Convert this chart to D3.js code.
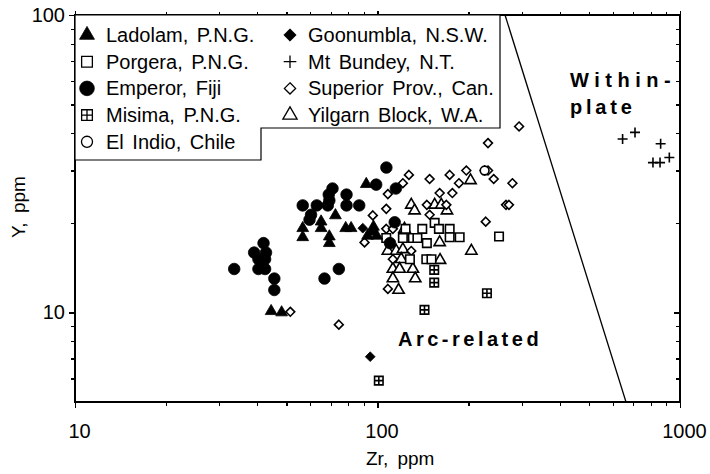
<!DOCTYPE html>
<meta charset="utf-8">
<style>
body { margin: 0; background: #fff; }
svg { font-family: "Liberation Sans", Arial, sans-serif; }
.axis line { stroke: #000; stroke-width: 1.2; shape-rendering: crispEdges; }
.axis text { font-size: 20px; fill: #000; font-family: "Liberation Sans", Arial, sans-serif; }
.frame { fill: none; stroke: #000; stroke-width: 1.3; shape-rendering: crispEdges; }
.legend text { font-size: 20px; word-spacing: 3px; }
.title { font-size: 19px; word-spacing: 4px; }
.region { font-size: 20px; font-weight: bold; }
</style>
<body>
<script src="https://cdn.jsdelivr.net/npm/d3@7"></script>
<script>

// Zr (ppm), Y (ppm), one list per locality
var ladolam = [[91.8,27.0],[72.6,21.2],[65.1,20.2],[65.1,19.2],[56.6,19.2],[56.6,17.9],[69.3,18.0],[69.3,17.1],
  [78.5,19.2],[81.8,19.2],[92.7,18.1],[96.3,18.7],[99.4,18.1],[97,19.4],[44.5,10.1],[48.2,10.0]];
var porgera = [[154.5,20.0],[140.6,19.1],[159.6,19.1],[173.2,19.1],[123.8,19.1],[121.3,17.8],[130.9,17.8],[135.5,17.8],
  [173.2,17.9],[186.9,17.9],[145.6,17.1],[106.9,17.8],[252.2,18.0],[128,15.1],[145,15.1],[150.8,15.1]];
var emperor = [[107,30.7],[99,26.9],[71,26.1],[69,24.9],[79,24.9],[56.6,22.9],[63,22.9],[68.5,22.9],[79,22.9],[87,22.9],
  [60.3,21.3],[59.6,20.5],[115,26.1],[114,20.1],[110,17.1],[33.6,14.0],[39.1,15.9],[42,17.1],[42.8,15.9],[40.4,15.1],
  [42.5,15.1],[40.4,14.0],[42.5,14.0],[45.6,13.0],[45.6,11.9],[66.8,13.0],[74.5,14.0],[69.3,23.8]];
var misima = [[154,13.9],[154,12.6],[230,11.6],[143,10.2],[101,5.9]];
var elIndio = [[226,30.0]];
var goonumbla = [[89.4,19.2],[94.6,7.1]];
var mtBundey = [[646,38.3],[710,40.3],[863,36.9],[814,31.9],[859,31.9],[922,33.2]];
var superior = [[293.8,42.2],[231.9,37.1],[127,29.0],[121.3,27.2],[108.2,25.0],[148.7,28.1],[173.2,29.0],[196.6,30.0],
  [185.9,27.2],[160.5,25.2],[176.8,25.2],[226.1,30.0],[231.9,30.0],[242.2,28.1],[279.3,27.2],[266,23.0],[272,23.0],
  [227.9,20.2],[106.9,22.3],[96.5,21.2],[106.9,19.1],[112.4,19.1],[90.6,17.2],[145.6,23.0],[168.9,23.0],[148.7,21.3],
  [129.3,16.1],[112.4,15.1],[108.2,12.0],[51.5,10.05],[74.5,9.1]];
var yilgarn = [[203,27.8],[129.3,23.0],[132.6,22.0],[154.5,23.0],[162.5,23.0],[169.7,22.0],[122.8,19.1],[160.5,17.2],
  [204.3,16.1],[108.2,16.1],[115.3,16.1],[121.3,16.3],[119.8,15.1],[161,15.0],[112.4,14.0],[118.3,14.0],[130.9,14.0],
  [112.4,13.0],[133.3,13.0],[117.4,11.9]];

// arc-related / within-plate dividing line (Zr, Y)
var boundary = [[264,100],[663,5]];

var xMajor = [10, 100, 1000];
var xMinor = [20,30,40,50,60,70,80,90,200,300,400,500,600,700,800,900];
var yMajor = [10, 100];
var yMinor = [6,7,8,9,20,30,40,50,60,70,80,90];

var x = d3.scaleLog().domain([10, 1000]).range([75, 680]),
    y = d3.scaleLog().domain([5, 100]).range([402, 15]);

// custom symbol shapes
var diamond = {draw: function(c, s) { var r = Math.sqrt(s) / 2;
  c.moveTo(0,-r); c.lineTo(r,0); c.lineTo(0,r); c.lineTo(-r,0); c.closePath(); }};
var boxCross = {draw: function(c, s) { var r = Math.sqrt(s) / 2;
  c.moveTo(-r,-r); c.lineTo(r,-r); c.lineTo(r,r); c.lineTo(-r,r); c.closePath();
  c.moveTo(0,-r); c.lineTo(0,r); c.moveTo(-r,0); c.lineTo(r,0); }};
var plus = {draw: function(c, s) { var r = Math.sqrt(s) / 2;
  c.moveTo(-r,0); c.lineTo(r,0); c.moveTo(0,-r); c.lineTo(0,r); }};

var series = [
  {name: "Ladolam, P.N.G.",      data: ladolam,   type: d3.symbolTriangle, size: 60, filled: true},
  {name: "Porgera, P.N.G.",      data: porgera,   type: d3.symbolSquare,   size: 72, filled: false},
  {name: "Emperor,  Fiji",       data: emperor,   type: d3.symbolCircle,   size: 105, filled: true},
  {name: "Misima, P.N.G.",       data: misima,    type: boxCross,          size: 72, filled: false},
  {name: "El Indio, Chile",      data: elIndio,   type: d3.symbolCircle,   size: 60, filled: false},
  {name: "Goonumbla, N.S.W.",    data: goonumbla, type: diamond,           size: 95, filled: true},
  {name: "Mt Bundey, N.T.",      data: mtBundey,  type: plus,              size: 100, filled: false},
  {name: "Superior Prov.,  Can.", data: superior, type: diamond,           size: 78, filled: false},
  {name: "Yilgarn Block, W.A.",  data: yilgarn,   type: d3.symbolTriangle, size: 55, filled: false}
];
var drawOrder = [8, 7, 1, 3, 4, 6, 5, 2, 0];

var svg = d3.select("body").append("svg")
  .attr("width", 710)
  .attr("height", 474);

function axis(fn, ticks, size, labels, tr) {
  var g = svg.append("g").attr("class", "axis").attr("transform", tr)
    .call(fn.tickValues(ticks).tickSize(size).tickPadding(3)
      .tickFormat(labels ? d3.format("d") : ""));
  g.select(".domain").remove();
  return g;
}
var bx = "translate(0," + y.range()[0] + ")", tx = "translate(0," + y.range()[1] + ")",
    lx = "translate(" + x.range()[0] + ",0)", rx = "translate(" + x.range()[1] + ",0)";
axis(d3.axisBottom(x), xMinor, 4, false, bx);
axis(d3.axisBottom(x), xMajor, 6, true, bx).selectAll("text").attr("dy", "1.35em").attr("dx", 4);
axis(d3.axisTop(x), xMinor, 3, false, tx);
axis(d3.axisTop(x), xMajor, 4, false, tx);
axis(d3.axisLeft(y), yMinor, 4, false, lx);
axis(d3.axisLeft(y), yMajor, 6, true, lx).selectAll("text").attr("dx", -1);
axis(d3.axisRight(y), yMinor, -4, false, rx);
axis(d3.axisRight(y), yMajor, -6, false, rx);

svg.append("rect").attr("class", "frame")
  .attr("x", x.range()[0]).attr("y", y.range()[1])
  .attr("width", x.range()[1] - x.range()[0])
  .attr("height", y.range()[0] - y.range()[1]);

// dividing line
svg.append("path")
  .datum(boundary)
  .attr("fill", "none").attr("stroke", "#000").attr("stroke-width", 1.3)
  .attr("d", d3.line().x(function(d){ return x(d[0]); }).y(function(d){ return y(d[1]); }));

// points
drawOrder.forEach(function(i) {
  var s = series[i];
  svg.append("g").selectAll("path")
    .data(s.data)
    .enter().append("path")
      .attr("transform", function(d){ return "translate(" + x(d[0]) + "," + y(d[1]) + ")"; })
      .attr("d", d3.symbol().type(s.type).size(s.size))
      .attr("fill", s.filled ? "#000" : (s.type === plus ? "none" : "#fff"))
      .attr("stroke", "#000")
      .attr("stroke-width", s.filled ? 0.8 : 1.6);
});

// legend box with step
var lg = {left: x.range()[0], top: y.range()[1], right: 500, stepX: 261, bottomR: 128, bottomL: 160,
          rowH: 26.7, row0: 35, col: [{mark: 87, text: 106}, {mark: 290, text: 308}]};
svg.append("path")
  .attr("fill", "#fff").attr("stroke", "#000").attr("stroke-width", 1.2)
  .attr("d", d3.line()([[lg.left, lg.top], [lg.right, lg.top], [lg.right, lg.bottomR], [lg.stepX, lg.bottomR],
                        [lg.stepX, lg.bottomL], [lg.left, lg.bottomL]]) + "Z");

var legend = svg.append("g").attr("class", "legend")
  .selectAll("g").data(series).enter().append("g")
    .attr("transform", function(d, i) {
      var r = i < 5 ? i : i - 5;
      return "translate(0," + (lg.row0 + r * lg.rowH) + ")";
    });
legend.append("path")
  .attr("transform", function(d, i){ return "translate(" + lg.col[i < 5 ? 0 : 1].mark + ",0)"; })
  .attr("d", function(d){ return d3.symbol().type(d.type).size(d.size * 1.6)(); })
  .attr("fill", function(d){ return d.filled ? "#000" : (d.type === plus ? "none" : "#fff"); })
  .attr("stroke", "#000")
  .attr("stroke-width", function(d){ return d.filled ? 0.8 : 1.3; });
legend.append("text")
  .attr("x", function(d, i){ return lg.col[i < 5 ? 0 : 1].text; })
  .attr("y", 7)
  .text(function(d){ return d.name; });

// region labels
svg.append("text").attr("class", "region").attr("x", 570).attr("y", 87)
  .style("letter-spacing", "5.5px").text("Within-");
svg.append("text").attr("class", "region").attr("x", 570).attr("y", 114)
  .style("letter-spacing", "3.8px").text("plate");
svg.append("text").attr("class", "region").attr("x", 398).attr("y", 346)
  .style("letter-spacing", "3.5px").text("Arc-related");

// axis titles
svg.append("text").attr("class", "title").attr("x", 366).attr("y", 465).text("Zr, ppm");
svg.append("text").attr("class", "title")
  .attr("transform", "translate(25,207) rotate(-90)")
  .attr("text-anchor", "middle")
  .text("Y, ppm");

</script>
